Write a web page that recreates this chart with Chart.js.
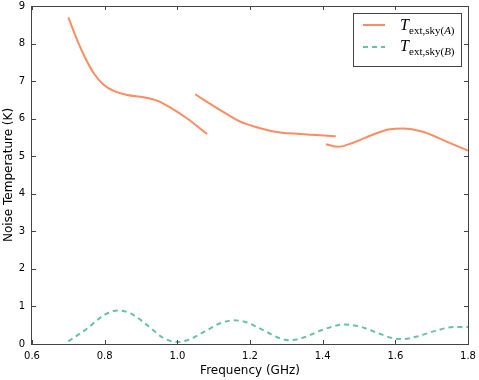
<!DOCTYPE html>
<html lang="en">
<head>
  <meta charset="UTF-8" />
  <title>Noise Temperature</title>
  <script src="https://cdn.jsdelivr.net/npm/chart.js"></script>
  <style>
    body { margin: 0; background: white; }
    #wrap { width: 479px; height: 380px; }
  </style>
</head>
<body>
  <div id="wrap"><canvas id="chart" width="479" height="380"></canvas></div>

  <script>
    // T_ext,sky(A) comes in three pieces
    const freqA1 = [0.70, 0.724, 0.747, 0.770, 0.797, 0.825, 0.862, 0.907, 0.944, 0.980, 1.026, 1.082];
    const tempA1 = [8.70, 8.10, 7.61, 7.21, 6.90, 6.74, 6.63, 6.57, 6.48, 6.30, 6.01, 5.59];
    const freqA2 = [1.049, 1.118, 1.173, 1.219, 1.264, 1.338, 1.436];
    const tempA2 = [6.65, 6.23, 5.92, 5.77, 5.66, 5.59, 5.53];
    const freqA3 = [1.409, 1.443, 1.484, 1.539, 1.585, 1.621, 1.676, 1.741, 1.80];
    const tempA3 = [5.32, 5.25, 5.36, 5.58, 5.72, 5.74, 5.65, 5.39, 5.15];

    // T_ext,sky(B)
    const freqB = [0.70, 0.75, 0.80, 0.835, 0.87, 0.92, 0.96, 1.00, 1.04, 1.08, 1.12, 1.155, 1.19, 1.24, 1.28, 1.31,
                   1.35, 1.40, 1.46, 1.50, 1.55, 1.59, 1.62, 1.66, 1.71, 1.76, 1.80];
    const tempB = [0.07, 0.40, 0.78, 0.89, 0.82, 0.48, 0.17, 0.05, 0.15, 0.36, 0.56, 0.63, 0.58, 0.35, 0.16, 0.10,
                   0.18, 0.38, 0.52, 0.47, 0.30, 0.16, 0.13, 0.20, 0.35, 0.45, 0.45];

    const xTicks = [0.6, 0.8, 1.0, 1.2, 1.4, 1.6, 1.8];
    const yTicks = [0, 1, 2, 3, 4, 5, 6, 7, 8, 9];

    const orange = '#fc8d62';
    const green = '#66c2a5';

    function toPoints(xs, ys) {
      return xs.map((x, i) => ({ x: x, y: ys[i] }));
    }

    function lineSet(label, xs, ys, color, dash) {
      return {
        label,
        data: toPoints(xs, ys),
        borderColor: color,
        borderWidth: 2,
        borderDash: dash || [],
        pointRadius: 0,
        fill: false,
        cubicInterpolationMode: 'monotone'
      };
    }

    // spines + inward ticks on all four sides, like matplotlib classic
    const frame = {
      id: 'frame',
      afterDatasetsDraw(chart) {
        const { ctx, chartArea: a, scales: { x, y } } = chart;
        ctx.save();
        ctx.strokeStyle = '#444';
        ctx.lineWidth = 1;
        ctx.beginPath();
        xTicks.forEach(v => {
          const px = Math.round(x.getPixelForValue(v)) + 0.5;
          ctx.moveTo(px, a.bottom); ctx.lineTo(px, a.bottom - 4);
          ctx.moveTo(px, a.top); ctx.lineTo(px, a.top + 4);
        });
        yTicks.forEach(v => {
          const py = Math.round(y.getPixelForValue(v)) + 0.5;
          ctx.moveTo(a.left, py); ctx.lineTo(a.left + 4, py);
          ctx.moveTo(a.right, py); ctx.lineTo(a.right - 4, py);
        });
        ctx.stroke();
        ctx.strokeRect(Math.round(a.left) - 0.5, Math.round(a.top) + 0.5,
                       Math.round(a.right - a.left) + 1, Math.round(a.bottom - a.top));
        ctx.restore();
      }
    };

    function drawEntry(ctx, x, y, tag) {
      ctx.font = 'italic 16px "Liberation Serif"';
      ctx.fillText('T', x, y);
      let cx = x + 9;
      ctx.font = '11px "Liberation Serif"';
      ctx.fillText('ext,sky(', cx, y + 4);
      cx += ctx.measureText('ext,sky(').width;
      ctx.font = 'italic 11px "Liberation Serif"';
      ctx.fillText(tag, cx, y + 4);
      cx += ctx.measureText(tag).width;
      ctx.font = '11px "Liberation Serif"';
      ctx.fillText(')', cx, y + 4);
    }

    const legendBox = {
      id: 'legendBox',
      afterDraw(chart) {
        const ctx = chart.ctx;
        ctx.save();
        ctx.fillStyle = 'white';
        ctx.fillRect(353.5, 13.5, 108, 53);
        ctx.strokeStyle = '#444';
        ctx.lineWidth = 1;
        ctx.strokeRect(353.5, 13.5, 108, 53);

        ctx.lineWidth = 2;
        ctx.strokeStyle = orange;
        ctx.beginPath(); ctx.moveTo(363, 25); ctx.lineTo(385, 25); ctx.stroke();
        ctx.strokeStyle = green;
        ctx.setLineDash([5, 4]);
        ctx.beginPath(); ctx.moveTo(363, 47); ctx.lineTo(385, 47); ctx.stroke();
        ctx.setLineDash([]);

        ctx.fillStyle = '#000';
        ctx.textBaseline = 'alphabetic';
        drawEntry(ctx, 400, 29.5, 'A');
        drawEntry(ctx, 400, 51, 'B');
        ctx.restore();
      }
    };

    const whiteBg = {
      id: 'whiteBg',
      beforeDraw(chart) {
        const ctx = chart.ctx;
        ctx.save();
        ctx.fillStyle = 'white';
        ctx.fillRect(0, 0, chart.width, chart.height);
        ctx.restore();
      }
    };

    new Chart(document.getElementById('chart'), {
      type: 'line',
      data: {
        datasets: [
          lineSet('T_ext,sky(A)', freqA1, tempA1, orange),
          lineSet('T_ext,sky(A)', freqA2, tempA2, orange),
          lineSet('T_ext,sky(A)', freqA3, tempA3, orange),
          lineSet('T_ext,sky(B)', freqB, tempB, green, [5, 4])
        ]
      },
      options: {
        responsive: false,
        animation: false,
        devicePixelRatio: 1,
        layout: { padding: { top: 6, right: 11, left: 0, bottom: 0 } },
        plugins: {
          legend: { display: false },
          tooltip: { enabled: false }
        },
        scales: {
          x: {
            type: 'linear',
            min: 0.6,
            max: 1.8,
            afterFit: s => { s.height = 36; s.paddingLeft = 0; s.paddingRight = 0; },
            afterBuildTicks: s => { s.ticks = xTicks.map(v => ({ value: v })); },
            grid: { display: false, drawTicks: false },
            border: { display: false },
            ticks: {
              padding: 6,
              color: '#000',
              font: { family: 'DejaVu Sans', size: 10 },
              maxRotation: 0,
              callback: v => v.toFixed(1)
            },
            title: {
              display: true,
              text: 'Frequency (GHz)',
              color: '#000',
              font: { family: 'DejaVu Sans', size: 12 },
              padding: { top: 0, bottom: 2 }
            }
          },
          y: {
            min: 0,
            max: 9,
            afterFit: s => { s.width = 32; s.paddingTop = 0; s.paddingBottom = 0; },
            afterBuildTicks: s => { s.ticks = yTicks.map(v => ({ value: v })); },
            grid: { display: false, drawTicks: false },
            border: { display: false },
            ticks: {
              padding: 7,
              color: '#000',
              font: { family: 'DejaVu Sans', size: 10 }
            },
            title: {
              display: true,
              text: 'Noise Temperature (K)',
              color: '#000',
              font: { family: 'DejaVu Sans', size: 12 },
              padding: { top: 2, bottom: 0 }
            }
          }
        }
      },
      plugins: [whiteBg, frame, legendBox]
    });
  </script>
</body>
</html>
